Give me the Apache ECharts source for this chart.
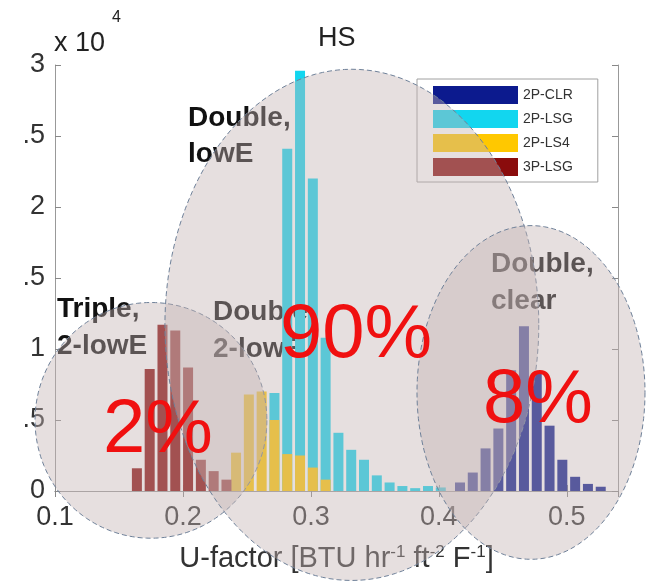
<!DOCTYPE html>
<html>
<head>
<meta charset="utf-8">
<title>HS</title>
<script src="https://cdn.jsdelivr.net/npm/echarts@6/dist/echarts.min.js"></script>
<style>
  html, body { margin: 0; padding: 0; background: #fff; }
  #chart { width: 648px; height: 587px; }
</style>
</head>
<body>
<div id="chart"></div>
<script>
// histogram bins (centre of each 0.01 wide U-factor bin) and counts
var seriesNames = ["2P-CLR", "2P-LSG", "2P-LS4", "3P-LSG"];

var clrCenters = [0.4165, 0.4265, 0.4365, 0.4465, 0.4565, 0.4665, 0.4765, 0.4865, 0.4965, 0.5065, 0.5165, 0.5265];
var clrCounts = [600, 1300, 3000, 4400, 8500, 11600, 8300, 4600, 2200, 1000, 500, 300];

var lsgCenters = [0.2715, 0.2815, 0.2915, 0.3015, 0.3115, 0.3215, 0.3315, 0.3415, 0.3515, 0.3615, 0.3715, 0.3815, 0.3915, 0.4015];
var lsgCounts = [6900, 24100, 29600, 22000, 10800, 4100, 2900, 2200, 1100, 600, 350, 200, 350, 250];

var ls4Centers = [0.2415, 0.2515, 0.2615, 0.2715, 0.2815, 0.2915, 0.3015, 0.3115];
var ls4Counts = [2700, 6800, 7000, 5000, 2600, 2500, 1650, 800];

var p3Centers = [0.164, 0.174, 0.184, 0.194, 0.204, 0.214, 0.224, 0.234];
var p3Counts = [1600, 8600, 11700, 11300, 8700, 2200, 1400, 800];

var xTicks = [0.1, 0.2, 0.3, 0.4, 0.5];

// highlight ellipses in data units: centre x, centre y, radius x, radius y
var groupEllipses = [
  [0.175, 4975, 0.0906, 8300],
  [0.332, 11700, 0.1461, 18000],
  [0.472, 6940, 0.0891, 11750]
];

var colors = ["#0c1a8e", "#12d6ef", "#ffc800", "#8a0c0c"];

function pairs(xs, ys) {
  return xs.map(function (x, i) { return [x, ys[i]]; });
}

function barSeries(name, xs, ys, color) {
  return {
    name: name,
    type: "bar",
    data: pairs(xs, ys),
    barWidth: 10,
    barGap: "-100%",
    itemStyle: { color: color },
    z: 2
  };
}

var chart = echarts.init(document.getElementById("chart"));

chart.setOption({
  backgroundColor: "#fff",
  animation: false,
  textStyle: { fontFamily: "Liberation Sans" },
  title: {
    text: "HS",
    left: 313,
    top: 20,
    textStyle: { fontSize: 27, fontWeight: "normal", color: "#222" }
  },
  grid: { left: 55, right: 30, top: 65, bottom: 96 },
  legend: {
    data: seriesNames,
    orient: "vertical",
    left: 417,
    top: 79,
    icon: "rect",
    itemWidth: 85,
    itemHeight: 18,
    itemGap: 6,
    padding: [7, 25, 6, 16],
    backgroundColor: "#fff",
    borderColor: "#a0a0a0",
    borderWidth: 1,
    borderRadius: 0,
    z: 3,
    textStyle: { fontSize: 14, color: "#333" }
  },
  xAxis: [
    {
      type: "value",
      min: 0.1,
      max: 0.54,
      interval: 0.1,
      name: "U-factor [BTU hr{sup|-1} ft{sup|-2} F{sup|-1}]",
      nameLocation: "middle",
      nameGap: 53,
      nameTextStyle: {
        fontSize: 29,
        color: "#333",
        rich: { sup: { fontSize: 17, verticalAlign: "top", color: "#333" } }
      },
      axisLine: { lineStyle: { color: "#999" } },
      axisTick: { inside: true, length: 6, lineStyle: { color: "#888" } },
      axisLabel: {
        fontSize: 27,
        color: "#333",
        margin: 13,
        showMaxLabel: false,
        formatter: function (v) {
          var r = Math.round(v * 10) / 10;
          return xTicks.indexOf(r) >= 0 && Math.abs(v - r) < 1e-6 ? String(r) : "";
        }
      },
      splitLine: { show: false }
    },
    {
      type: "value",
      position: "top",
      min: 0.1,
      max: 0.54,
      interval: 0.1,
      axisLine: { show: true, lineStyle: { color: "#999" } },
      axisTick: { inside: true, length: 6, lineStyle: { color: "#888" } },
      axisLabel: { show: false },
      splitLine: { show: false }
    }
  ],
  yAxis: [
    {
      type: "value",
      min: 0,
      max: 30000,
      interval: 5000,
      axisLine: { show: true, lineStyle: { color: "#999" } },
      axisTick: { show: true, inside: true, length: 6, lineStyle: { color: "#888" } },
      axisLabel: {
        fontSize: 27,
        color: "#333",
        margin: 10,
        formatter: function (v) {
          var s = String(v / 10000);
          return s.indexOf(".") > 0 ? s.slice(s.indexOf(".")) : s;
        }
      },
      splitLine: { show: false }
    },
    {
      type: "value",
      position: "right",
      min: 0,
      max: 30000,
      interval: 5000,
      axisLine: { show: true, lineStyle: { color: "#999" } },
      axisTick: { show: true, inside: true, length: 6, lineStyle: { color: "#888" } },
      axisLabel: { show: false },
      splitLine: { show: false }
    }
  ],
  series: [
    barSeries(seriesNames[0], clrCenters, clrCounts, colors[0]),
    barSeries(seriesNames[1], lsgCenters, lsgCounts, colors[1]),
    barSeries(seriesNames[2], ls4Centers, ls4Counts, colors[2]),
    barSeries(seriesNames[3], p3Centers, p3Counts, colors[3]),
    {
      type: "custom",
      silent: true,
      clip: false,
      z: 10,
      data: groupEllipses,
      renderItem: function (params, api) {
        var c = api.coord([api.value(0), api.value(1)]);
        var s = api.size([api.value(2), api.value(3)]);
        var pts = [];
        for (var i = 0; i < 160; i++) {
          var t = (i / 160) * Math.PI * 2;
          pts.push([c[0] + s[0] * Math.cos(t), c[1] + s[1] * Math.sin(t)]);
        }
        return {
          type: "polygon",
          shape: { points: pts },
          style: {
            fill: "rgba(195,178,178,0.42)",
            stroke: "#6f8199",
            lineWidth: 1,
            lineDash: [5, 3]
          }
        };
      }
    }
  ],
  graphic: [
    {
      type: "text", left: 54, top: 30, z: 1,
      style: { text: "x 10", fontSize: 27, fill: "#222", fontFamily: "Liberation Sans" }
    },
    {
      type: "text", left: 112, top: 10, z: 1,
      style: { text: "4", fontSize: 16, fill: "#222", fontFamily: "Liberation Sans" }
    },
    {
      type: "text", left: 188, top: 100, z: 1,
      style: { text: "Double,\nlowE", fontSize: 28, fontWeight: "bold", lineHeight: 36, fill: "#111", fontFamily: "Liberation Sans" }
    },
    {
      type: "text", left: 57, top: 291, z: 1,
      style: { text: "Triple,\n2-lowE", fontSize: 28, fontWeight: "bold", lineHeight: 37, fill: "#111", fontFamily: "Liberation Sans" }
    },
    {
      type: "text", left: 213, top: 294, z: 1,
      style: { text: "Double,\n2-lowE", fontSize: 28, fontWeight: "bold", lineHeight: 37, fill: "#111", fontFamily: "Liberation Sans" }
    },
    {
      type: "text", left: 491, top: 246, z: 1,
      style: { text: "Double,\nclear", fontSize: 28, fontWeight: "bold", lineHeight: 37, fill: "#111", fontFamily: "Liberation Sans" }
    },
    {
      type: "text", left: 280, top: 298, z: 20,
      style: { text: "90%", fontSize: 76, fill: "#f01010", fontFamily: "Liberation Sans" }
    },
    {
      type: "text", left: 103, top: 393, z: 20,
      style: { text: "2%", fontSize: 76, fill: "#f01010", fontFamily: "Liberation Sans" }
    },
    {
      type: "text", left: 483, top: 363, z: 20,
      style: { text: "8%", fontSize: 76, fill: "#f01010", fontFamily: "Liberation Sans" }
    }
  ]
});
</script>
</body>
</html>
